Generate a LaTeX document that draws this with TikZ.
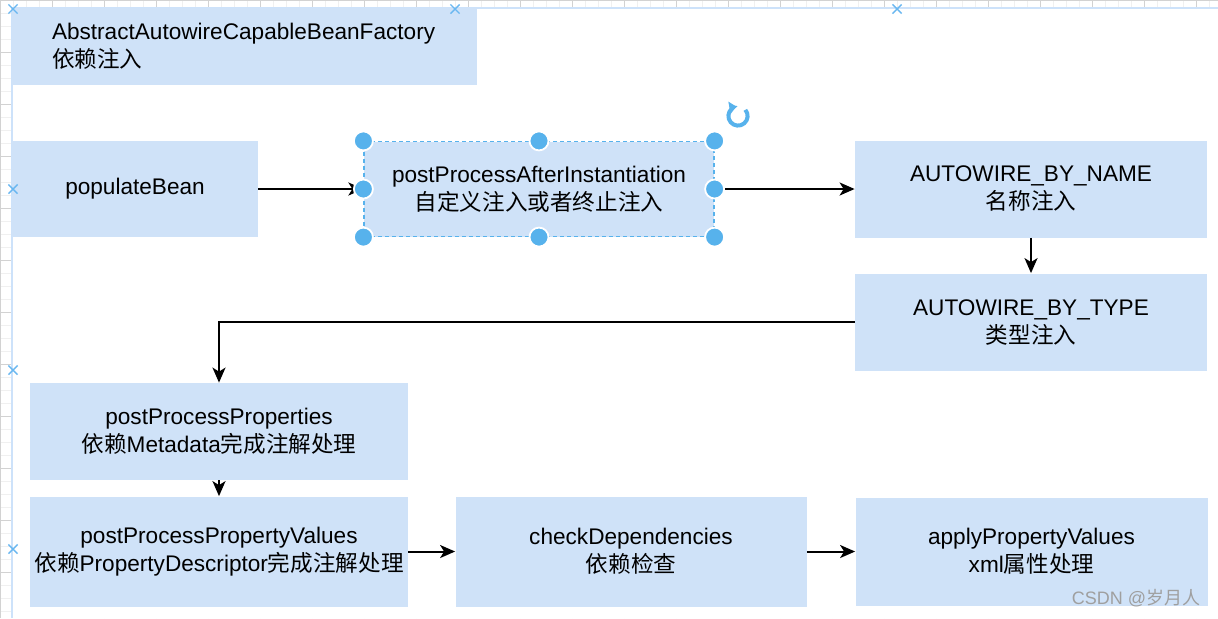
\documentclass[tikz,border=0pt]{standalone}
\usepackage{fontspec}
\setmainfont{Liberation Sans}
\newfontfamily\cjk{Noto Sans CJK SC}
\usetikzlibrary{arrows.meta}
\definecolor{boxfill}{RGB}{207,226,248}
\definecolor{handleblue}{RGB}{87,178,236}
\definecolor{markblue}{RGB}{105,183,240}
\definecolor{guideblue}{RGB}{205,226,250}
\newcommand{\labelfont}{\fontsize{11.3}{14}\selectfont}
\tikzstyle{stepbox} = [rectangle, minimum width=176pt, minimum height=48.5pt, inner xsep=2pt, align=center, fill=boxfill, font=\labelfont]
\tikzstyle{wideBox} = [stepbox, minimum width=189pt]
\tikzstyle{tallBox} = [stepbox, minimum height=55pt]
\tikzstyle{selected} = [draw=handleblue, line width=0.6pt, dash pattern=on 2pt off 1.5pt]
\tikzstyle{handle} = [circle, fill=handleblue, draw=white, line width=0.9pt, minimum size=9.5pt, inner sep=0pt]
\tikzstyle{arrow} = [line width=1pt, -{Stealth[length=7.5pt, width=6.5pt, inset=2pt]}]
\tikzstyle{marker} = [markblue, line width=0.7pt]

\begin{document}
\begin{tikzpicture} [x=1pt, y=1pt, node distance=60pt]
        \useasboundingbox (0,0) rectangle (609,-309);

        \draw[gray!12, step=6.5] (0,0) grid (609,-309);
        \draw[gray!35, step=26] (0,0) grid (609,-309);
        \fill[white] (6,-4) rectangle (609,-309);
        \draw[guideblue, line width=0.6pt] (6,-309) -- (6,-4) -- (609,-4);

        \node (bean) [stepbox, minimum width=123pt, minimum height=48pt] at (67.5,-94.5) {populateBean};
        \node (abstract) [stepbox, minimum width=232.5pt, minimum height=38.5pt, inner xsep=20pt, text width=192.5pt, align=left, above of=bean, xshift=54.75pt, yshift=11.25pt] {AbstractAutowireCapableBeanFactory\\{\cjk 依赖注入}};
        \node (ppai) [stepbox, selected, minimum width=175pt, minimum height=47.5pt, right of=bean, xshift=142pt] {postProcessAfterInstantiation\\{\cjk 自定义注入或者终止注入}};
        \node (byName) [stepbox, right of=ppai, xshift=186pt] {AUTOWIRE\_BY\_NAME\\{\cjk 名称注入}};
        \node (byType) [stepbox, below of=byName, yshift=-6.5pt] {AUTOWIRE\_BY\_TYPE\\{\cjk 类型注入}};

        \node (ppp) [wideBox, below of=bean, xshift=42pt, yshift=-61.25pt] {postProcessProperties\\{\cjk 依赖}Metadata{\cjk 完成注解处理}};
        \node (ppv) [wideBox, tallBox, below of=ppp] {postProcessPropertyValues\\{\cjk 依赖}PropertyDescriptor{\cjk 完成注解处理}};
        \node (check) [tallBox, minimum width=175.5pt, right of=ppv, xshift=146pt] {checkDependencies\\{\cjk 依赖检查}};
        \node (apply) [stepbox, minimum height=54pt, right of=check, xshift=140.25pt] {applyPropertyValues\\xml{\cjk 属性处理}};

        \draw[arrow] (bean) -- (ppai);
        \draw[arrow] (ppai) -- (byName);
        \draw[arrow] (byName) -- (byType);
        \draw[arrow] (byType.west) -| (ppp.north);
        \draw[arrow] (ppp) -- (ppv);
        \draw[arrow] (ppv) -- (check);
        \draw[arrow] (check) -- (apply);

        \foreach \a [count=\i] in {north west, north, north east, west, east, south west, south, south east}
            \node (handle\i) [handle] at (ppai.\a) {};
        \draw[handleblue, line width=2pt, -{Triangle[length=3.5pt, width=6pt]}] (369,-58) ++(400:4.8) arc[start angle=400, end angle=100, radius=4.8];

        \foreach \x/\y in {6.5/-4.5, 227.5/-4.5, 448.5/-4.5, 6.5/-94.5, 6.5/-185, 6.5/-274.5}
            \draw[marker] (\x-2.3,\y-2.3) -- (\x+2.3,\y+2.3) (\x-2.3,\y+2.3) -- (\x+2.3,\y-2.3);

        \node (watermark) [font=\fontsize{9}{10}\selectfont, text=gray!75] at (568,-299) {CSDN @{\cjk 岁月人}};

    \end{tikzpicture}
\end{document}
